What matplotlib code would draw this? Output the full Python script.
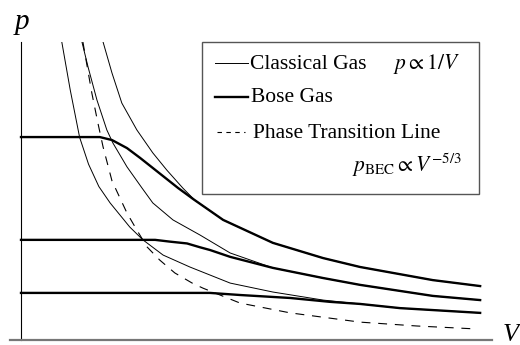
import matplotlib
matplotlib.use('Agg')
import matplotlib.pyplot as plt
from matplotlib.lines import Line2D
from matplotlib.patches import Rectangle

plt.rcParams['font.family'] = 'Liberation Serif'
plt.rcParams['mathtext.fontset'] = 'stix'

# classical gas isotherms (thin), p ~ 1/V
V_cl1 = [0.87, 1.05, 1.25, 1.44, 1.66, 1.90, 2.32, 2.60, 3.03, 3.60, 4.46, 5.37, 6.44, 7.23, 8.08, 9.79]
p_cl1 = [10.0, 8.39, 6.80, 5.90, 5.15, 4.60, 3.79, 3.36, 2.85, 2.45, 1.91, 1.61, 1.34, 1.21, 1.07, 0.91]
V_cl2 = [1.30, 1.43, 1.62, 1.83, 1.96, 2.26, 2.58, 2.81, 3.24, 3.82, 4.46, 5.37, 6.44, 7.23, 8.78, 9.79]
p_cl2 = [10.0, 9.16, 8.05, 7.05, 6.61, 5.81, 5.10, 4.60, 4.03, 3.52, 2.92, 2.42, 2.08, 1.85, 1.48, 1.34]
V_cl3 = [1.75, 1.94, 2.15, 2.47, 2.81, 3.11, 3.45, 3.70, 4.31, 5.37, 6.44, 7.23, 8.78, 9.79]
p_cl3 = [10.0, 8.96, 7.95, 7.05, 6.28, 5.70, 5.10, 4.70, 4.03, 3.26, 2.75, 2.45, 2.01, 1.81]

# Bose gas isotherms (thick)
V_b1 = [0.0, 1.68, 1.94, 2.26, 2.54, 3.35, 3.68, 4.31, 5.37, 6.44, 7.23, 8.78, 9.79]
p_b1 = [6.81, 6.81, 6.71, 6.44, 6.11, 5.10, 4.72, 4.03, 3.26, 2.75, 2.45, 2.01, 1.81]
V_b2 = [0.0, 2.86, 3.18, 3.54, 3.82, 4.03, 4.46, 5.37, 6.44, 7.23, 8.78, 9.79]
p_b2 = [3.36, 3.36, 3.30, 3.24, 3.11, 3.02, 2.79, 2.42, 2.08, 1.85, 1.48, 1.34]
V_b3 = [0.0, 4.03, 4.67, 5.74, 6.59, 7.23, 8.08, 9.79]
p_b3 = [1.58, 1.58, 1.51, 1.41, 1.28, 1.21, 1.07, 0.91]

# phase transition line, p_BEC ~ V^-5/3
V_bec = [1.32, 1.51, 1.64, 1.75, 1.94, 2.26, 2.47, 2.69, 2.96, 3.28, 3.65, 3.88, 4.67, 5.74, 7.23, 8.44, 9.72]
p_bec = [10.0, 8.29, 7.28, 6.48, 5.34, 4.26, 3.69, 3.12, 2.68, 2.25, 1.91, 1.74, 1.24, 0.91, 0.60, 0.47, 0.37]

W, H = 520, 345
fig = plt.figure(figsize=(W / 100, H / 100), dpi=100)
ax = fig.add_axes([10 / W, 5 / H, 482 / W, 298 / H])

def fx(px):
    return px / W

def fy(py):
    return 1 - py / H

for V, p in [(V_cl1, p_cl1), (V_cl2, p_cl2), (V_cl3, p_cl3)]:
    ax.plot(V, p, color='black', lw=0.7)
for V, p in [(V_b1, p_b1), (V_b2, p_b2), (V_b3, p_b3)]:
    ax.plot(V, p, color='black', lw=1.7)
ax.plot(V_bec, p_bec, color='black', lw=0.8, ls=(0, (8, 7)))

ax.set_xlim(-0.2345, 10.043)
ax.set_ylim(0, 10)
ax.spines['top'].set_visible(False)
ax.spines['right'].set_visible(False)
ax.spines['left'].set_position(('data', 0))
ax.spines['left'].set_linewidth(0.8)
ax.spines['bottom'].set_color('#777777')
ax.spines['bottom'].set_linewidth(1.6)
ax.set_xticks([])
ax.set_yticks([])
ax.patch.set_alpha(0)

fig.text(fx(22), fy(22), 'p', fontsize=21, style='italic', ha='center', va='center')
fig.text(fx(503), fy(324), 'V', fontsize=19, style='italic', ha='left', va='top')

# legend box
fig.patches.append(Rectangle((fx(202), fy(194)), fx(479) - fx(202), fy(42) - fy(194),
                             transform=fig.transFigure, fill=False,
                             edgecolor='#555555', lw=1.0))
fig.lines.append(Line2D([fx(215), fx(248)], [fy(62.7), fy(62.7)],
                        transform=fig.transFigure, color='black', lw=0.7))
fig.lines.append(Line2D([fx(215), fx(248)], [fy(97.3), fy(97.3)],
                        transform=fig.transFigure, color='black', lw=1.7))
fig.lines.append(Line2D([fx(217), fx(245)], [fy(131.7), fy(131.7)],
                        transform=fig.transFigure, color='black', lw=0.8, ls=(0, (4, 4))))
fs = 15.5
fig.text(fx(250), fy(69.3), 'Classical Gas', fontsize=fs, va='baseline')
fig.text(fx(393), fy(69.3), r'$p \propto 1/V$', fontsize=fs, va='baseline')
fig.text(fx(251), fy(101.7), 'Bose Gas', fontsize=fs, va='baseline')
fig.text(fx(253), fy(138.3), 'Phase Transition Line', fontsize=fs, va='baseline')
fig.text(fx(352), fy(171.7), r'$p_{\mathrm{BEC}} \propto V^{-5/3}$', fontsize=fs, va='baseline')

fig.savefig('out.png', dpi=100)
